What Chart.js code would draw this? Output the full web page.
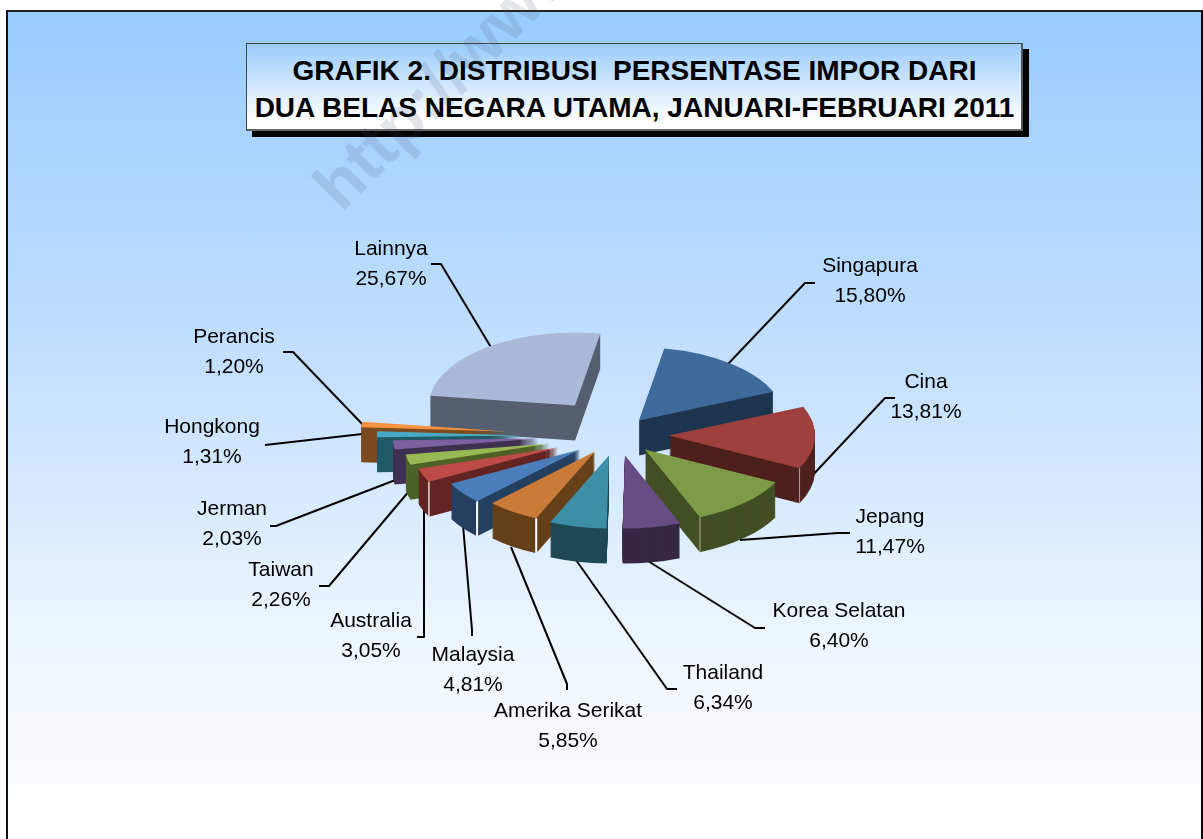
<!DOCTYPE html>
<html><head><meta charset="utf-8">
<script src="https://cdn.jsdelivr.net/npm/chart.js@4"></script>
<style>
html,body{margin:0;padding:0;background:#fff;width:1203px;height:839px;overflow:hidden}
#frame{position:absolute;left:6px;top:10px;width:1197px;height:829px;box-sizing:border-box;border-top:2px solid #222;border-left:2px solid #111;border-right:2px solid #000;
 background:linear-gradient(to bottom,#99CCFF 0%,#c6e1ff 45%,#eef6ff 76%,#ffffff 98%)}
#title{position:absolute;left:246px;top:43px;width:777px;height:88px;box-sizing:border-box;border:1px solid #444;border-bottom:2px solid #666;border-right:2px solid #555;box-shadow:6px 6px 0 #000;
 background:linear-gradient(to bottom,#9accff 0%,#ffffff 90%);font:bold 28px "Liberation Sans",Arial,sans-serif;color:#000;text-align:center;line-height:37px;padding-top:8px;padding-left:1px;white-space:pre}
#chartWrap{position:absolute;left:0;top:0;width:1203px;height:839px}
#mark{position:absolute;left:325px;top:197px;font:bold 67px/0 "Liberation Sans",Arial,sans-serif;color:rgba(70,80,100,.15);transform:rotate(-45deg);transform-origin:0 0;white-space:pre;pointer-events:none}
</style></head>
<body>
<div id="frame"></div>
<div id="title">GRAFIK 2. DISTRIBUSI  PERSENTASE IMPOR DARI
DUA BELAS NEGARA UTAMA, JANUARI-FEBRUARI 2011</div>
<div id="chartWrap"><canvas id="c" width="1203" height="839"></canvas></div>
<div id="mark">http://www</div>
<script>
const categories=["Singapura","Cina","Jepang","Korea Selatan","Thailand","Amerika Serikat","Malaysia","Australia","Taiwan","Jerman","Hongkong","Perancis","Lainnya"];
const percentages=[15.80,13.81,11.47,6.40,6.34,5.85,4.81,3.05,2.26,2.03,1.31,1.20,25.67];
const percentLabels=["15,80%","13,81%","11,47%","6,40%","6,34%","5,85%","4,81%","3,05%","2,26%","2,03%","1,31%","1,20%","25,67%"];

const topColors=["#3F6B9C","#9E403E","#7E9C47","#684D84","#3C8FA6","#C97B37","#4A7EBB","#BE4B48","#98B954","#7D60A0","#46AAC4","#F69240","#AAB9D7"];
const wallColors=["#1F3650","#4F211E","#424E24","#362844","#1F4954","#654019","#254061","#632523","#4F6228","#403152","#215967","#7B4B20","#565F70"];
// explosion of each slice away from the pie centre, in pixels
const explode=[[39,-9],[69,6],[45,20],[25,26],[9,26],[-5,22],[-20,20],[-42,18],[-50,14],[-61,9],[-77,6],[-93,2],[-25,-24]];
const drawOrder=[12,0,11,1,10,9,8,7,6,5,4,2,3];
const labelPos=[[870,266],[926,382],[890,517],[839,611],[723,673],[568,711],[473,655],[371,621],[281,570],[232,509],[212,427],[234,337],[391,249]];
const leaders=[
 [[815,283],[805,283],[728,364]],
 [[895,398],[885,398],[810,478]],
 [[850,533],[838,533],[740,540]],
 [[765,628],[755,628],[648,561]],
 [[677,689],[667,689],[576,560]],
 [[567,690],[567,684],[511,547]],
 [[472,636],[472,630],[463,525]],
 [[417,637],[424,637],[424,505]],
 [[319,586],[329,586],[410,490]],
 [[270,526],[276,526],[398,479]],
 [[265,445],[380,432]],
 [[283,352],[293,352],[366,428]],
 [[431,264],[441,264],[492,349]]
];
const cornerEdges=[[1,"end","rgba(190,190,190,.8)",1],[2,"end","rgba(200,210,190,.8)",1],[6,"start","#fff",2],[5,"start","#fff",2],[7,"start","rgba(255,255,255,.85)",1.5]];
const SQUASH=.5, DEPTH=35;

const pie3d={id:'pie3d',beforeDatasetsDraw(chart){
  const ctx=chart.ctx, arcs=chart.getDatasetMeta(0).data;
  ctx.save();ctx.strokeStyle='#000';ctx.lineWidth=2;ctx.lineJoin='round';
  leaders.forEach(pts=>{ctx.beginPath();pts.forEach((p,k)=>k?ctx.lineTo(p[0],p[1]):ctx.moveTo(p[0],p[1]));ctx.stroke();});
  ctx.restore();
  const paint=(arc,i,dy,color)=>{
    const base=arc.options;
    arc.options=Object.assign({},base,{backgroundColor:color});
    ctx.save();
    ctx.translate(arc.x+explode[i][0],arc.y+explode[i][1]+dy);
    ctx.scale(1,SQUASH);
    ctx.translate(-arc.x,-arc.y);
    arc.draw(ctx);
    ctx.restore();
    arc.options=base;
  };
  drawOrder.forEach(i=>{
    const arc=arcs[i];
    for(let d=DEPTH;d>0;d--) paint(arc,i,d,wallColors[i]);
    paint(arc,i,0,topColors[i]);
    cornerEdges.filter(e=>e[0]===i).forEach(e=>{
      const a=e[1]==='start'?arc.startAngle:arc.endAngle;
      const x=arc.x+explode[i][0]+arc.outerRadius*Math.cos(a);
      const y=arc.y+explode[i][1]+arc.outerRadius*Math.sin(a)*SQUASH;
      ctx.save();ctx.strokeStyle=e[2];ctx.lineWidth=e[3];
      ctx.beginPath();ctx.moveTo(x,y);ctx.lineTo(x,y+DEPTH);ctx.stroke();ctx.restore();
    });
  });
  ctx.save();ctx.fillStyle='#000';ctx.font='21px "Liberation Sans",Arial,sans-serif';ctx.textAlign='center';ctx.textBaseline='middle';
  categories.forEach((c,i)=>{
    ctx.fillText(c,labelPos[i][0],labelPos[i][1]);
    ctx.fillText(percentLabels[i],labelPos[i][0],labelPos[i][1]+30);
  });
  ctx.restore();
  return false;
}};

new Chart(document.getElementById('c'),{
  type:'pie',
  data:{labels:categories,datasets:[{data:percentages,backgroundColor:topColors,borderWidth:0}]},
  options:{responsive:false,animation:false,rotation:10,radius:146,
    layout:{padding:{top:20,right:3}},
    plugins:{legend:{display:false},tooltip:{enabled:false}}},
  plugins:[pie3d]
});
</script>
</body></html>
